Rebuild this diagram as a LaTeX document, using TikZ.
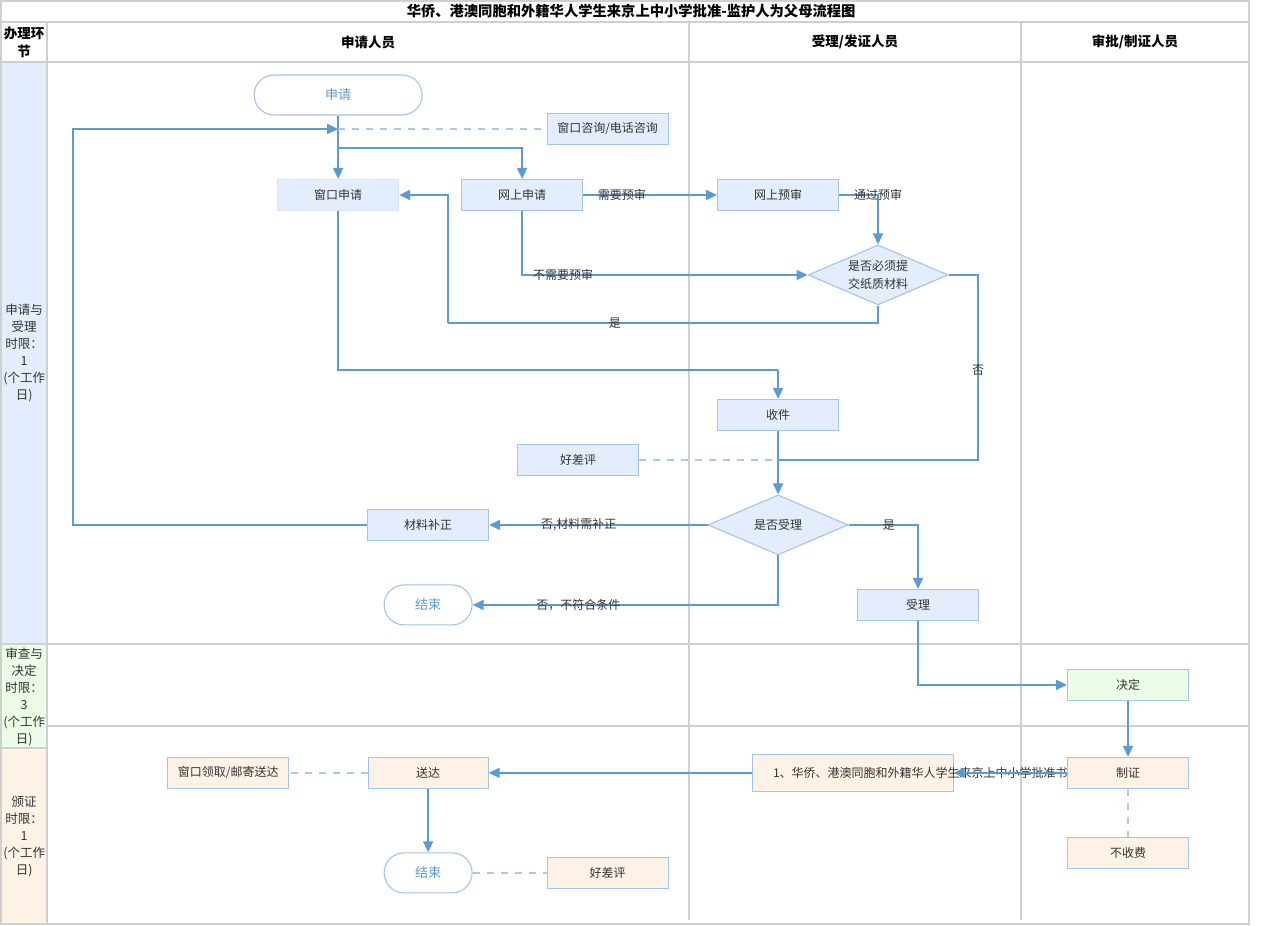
\documentclass[tikz,border=0pt]{standalone}
\usepackage{fontspec}
\setmainfont{Noto Sans CJK SC}
\usetikzlibrary{arrows.meta,shapes.geometric}
\definecolor{ln}{HTML}{5B9BD5}
\definecolor{lnl}{HTML}{A9C8EA}
\definecolor{bdr}{HTML}{A3C4E8}
\definecolor{bdrg}{HTML}{D6E2F0}
\definecolor{fb}{HTML}{E3EDFB}
\definecolor{fg}{HTML}{EBFDE6}
\definecolor{fo}{HTML}{FEF1E6}
\definecolor{gridc}{HTML}{CFCFCF}
\definecolor{txt}{HTML}{333333}
\begin{document}
\begin{tikzpicture}[x=1pt,y=-1pt,
  every node/.style={font=\fontsize{12}{18}\selectfont, text=txt},
  box/.style={draw=bdr, line width=1.1pt, minimum width=121pt, minimum height=31pt, inner sep=0pt},
  bbox/.style={box, fill=fb},
  gbox/.style={box, fill=fg},
  obox/.style={box, fill=fo},
  term/.style={draw=bdr, line width=1.1pt, fill=white, rounded corners=20pt, minimum height=40pt, inner sep=0pt, text=ln, font=\fontsize{13}{15}\selectfont},
  decision/.style={diamond, draw=bdr, fill=fb, line width=1.1pt, minimum width=140pt, minimum height=60pt, inner sep=0pt, aspect=2.33},
  flow/.style={draw=ln, line width=1.8pt, -{Triangle[length=11pt,width=10pt]}},
  plain/.style={draw=ln, line width=1.8pt},
  dashln/.style={draw=lnl, line width=1.8pt, dash pattern=on 7pt off 7pt},
  lbl/.style={font=\fontsize{12}{14}\selectfont, text=txt},
  hdr/.style={font=\fontsize{13.5}{18}\selectfont\bfseries, text=black},
  side/.style={align=center, font=\fontsize{12.5}{17}\selectfont, text=txt},
  gridl/.style={draw=gridc, line width=1.8pt}
]
% background and frame
\fill[white] (0,0) rectangle (1267,926);
\fill[fb] (1,62) rectangle (47,644);
\fill[fg] (1,644) rectangle (47,748);
\fill[fo] (1,748) rectangle (47,924);
\draw[gridl] (1,22) -- (1249,22);
\draw[gridl] (1,62) -- (1249,62);
\draw[gridl] (47,22) -- (47,924);
\draw[gridl] (689,22) -- (689,920);
\draw[gridl] (1021,22) -- (1021,920);
\draw[gridl] (1,644) -- (1249,644);
\draw[gridl] (47,726) -- (1249,726);
\draw[gridl] (1,748) -- (47,748);
\draw[gridl] (1,1) rectangle (1249,924);

% headers
\node[hdr, font=\fontsize{14.3}{18}\selectfont\bfseries] (title) at (631,11) {华侨、港澳同胞和外籍华人学生来京上中小学批准-监护人为父母流程图};
\node[hdr, align=center] (h0) at (24,42) {办理环\\节};
\node[hdr] (h1) at (368,42) {申请人员};
\node[hdr] (h2) at (855,42) {受理/发证人员};
\node[hdr] (h3) at (1135,42) {审批/制证人员};
\node[side] (s1) at (24,353) {申请与\\受理\\时限：\\1\\(个工作\\日)};
\node[side] (s2) at (24,697) {审查与\\决定\\时限：\\3\\(个工作\\日)};
\node[side] (s3) at (24,837) {颁证\\时限：\\1\\(个工作\\日)};

% nodes
\node[term, minimum width=168pt] (sq) at (338,95) {申请};
\node[bbox] (zx) at (607.5,129) {窗口咨询/电话咨询};
\node[bbox, draw=bdrg] (ck) at (338,195) {窗口申请};
\node[bbox] (ws) at (522,195) {网上申请};
\node[bbox] (ys) at (778,195) {网上预审};
\node[decision, label={[align=center, font=\fontsize{12}{18}\selectfont, text=txt]center:是否必须提\\交纸质材料}] (d1) at (878,275) {};
\node[bbox] (sj) at (778,415) {收件};
\node[bbox] (hp1) at (578,460) {好差评};
\node[decision, label={[font=\fontsize{12}{14}\selectfont, text=txt]center:是否受理}] (d2) at (778,525) {};
\node[bbox] (bz) at (428,525) {材料补正};
\node[term, minimum width=88pt] (js1) at (428,605) {结束};
\node[bbox] (sl) at (918,605) {受理};
\node[gbox] (jd) at (1128,685) {决定};
\node[obox] (zz) at (1128,773) {制证};
\node[obox] (bsf) at (1128,853) {不收费};
\node[obox, minimum width=201pt, minimum height=37pt] (pz) at (852.5,773) {\makebox[159pt][l]{\rlap{1、华侨、港澳同胞和外籍华人学生来京上中小学批准书}}};
\node[obox, minimum width=120pt] (sd) at (428,773) {送达};
\node[obox] (lq) at (228,773) {窗口领取/邮寄送达};
\node[term, minimum width=88pt] (js2) at (428,873) {结束};
\node[obox] (hp2) at (607.5,873) {好差评};

% junction coordinates
\coordinate (j0) at (338,129);
\coordinate (j1) at (338,148);
\coordinate (c73) at (73,129);
\coordinate (k1) at (448,323);
\coordinate (k2) at (448,195);
\coordinate (m1) at (978,460);
\coordinate (m2) at (778,460);
\coordinate (m3) at (778,370);

% connectors
\draw[flow] (sq.south) -- (ck.north);
\draw[flow] (j1) -| (ws.north);
\draw[dashln] (j0) -- (zx.west);
\draw[flow] (bz.west) -| (c73) -- (j0);
\draw[flow] (ws.east) -- node[lbl, pos=0.29] {需要预审} (ys.west);
\draw[flow] (ys.east) -| node[lbl, pos=0.5] {通过预审} (d1.north);
\draw[flow] (ws.south) |- node[lbl, pos=0.572] {不需要预审} (d1.west);
\draw[plain] (d1.south) |- node[lbl, pos=0.806] {是} (k1);
\draw[flow] (k1) -- (k2) -- (ck.east);
\draw[plain] (d1.east) -| node[lbl, pos=0.757] {否} (m1) -- (m2);
\draw[plain] (ck.south) |- (m3);
\draw[flow] (m3) -- (sj.north);
\draw[flow] (sj.south) -- (d2.north);
\draw[dashln] (hp1.east) -- (m2);
\draw[flow] (d2.west) -- node[lbl, pos=0.59] {否,材料需补正} (bz.east);
\draw[flow] (d2.south) |- node[lbl, pos=0.827] {否，不符合条件} (js1.east);
\draw[flow] (d2.east) -| node[lbl, pos=0.29] {是} (sl.north);
\draw[flow] (sl.south) |- (jd.west);
\draw[flow] (jd.south) -- (zz.north);
\draw[flow] (zz.west) -- (pz.east);
\draw[flow] (pz.west) -- (sd.east);
\draw[dashln] (sd.west) -- (lq.east);
\draw[flow] (sd.south) -- (js2.north);
\draw[dashln] (js2.east) -- (hp2.west);
\draw[dashln] (zz.south) -- (bsf.north);
\end{tikzpicture}
\end{document}
